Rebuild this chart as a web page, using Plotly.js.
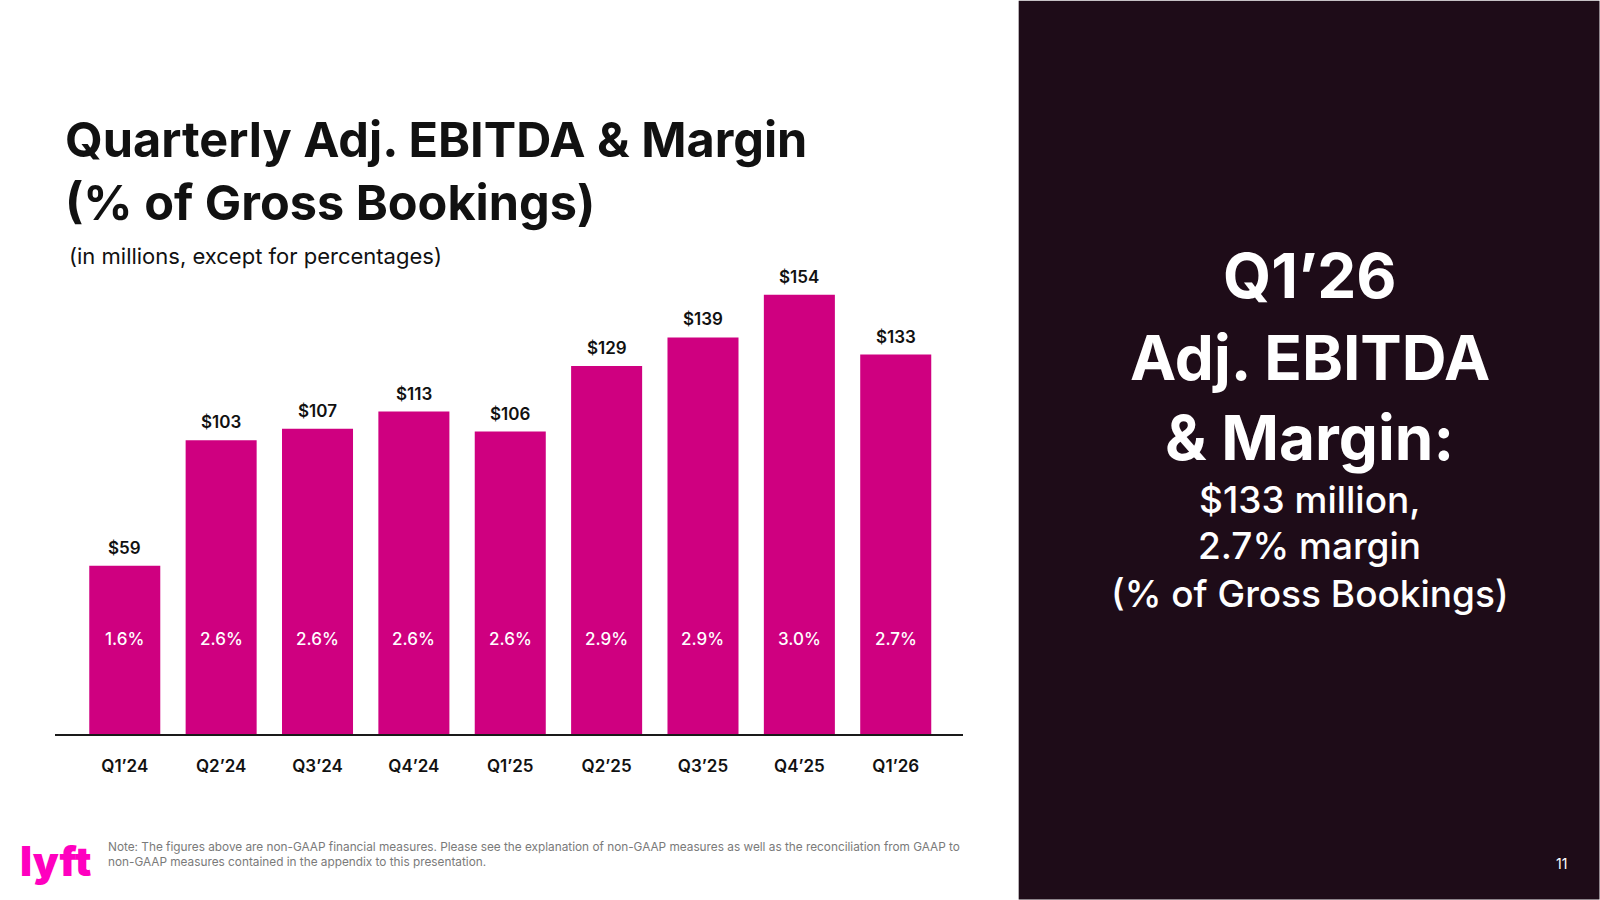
<!DOCTYPE html>
<html>
<head>
<meta charset="utf-8">
<script src="https://cdn.plot.ly/plotly-3.0.1.min.js"></script>
<style>
  html, body { margin: 0; padding: 0; background: #ffffff; }
  #chart { width: 1600px; height: 900px; }
</style>
</head>
<body>
<div id="chart"></div>
<script>
// Quarterly Adj. EBITDA ($M) and margin (% of Gross Bookings)
const quarters = ['Q1’24', 'Q2’24', 'Q3’24', 'Q4’24', 'Q1’25', 'Q2’25', 'Q3’25', 'Q4’25', 'Q1’26'];
const ebitda = [59, 103, 107, 113, 106, 129, 139, 154, 133];
const marginPct = [1.6, 2.6, 2.6, 2.6, 2.6, 2.9, 2.9, 3.0, 2.7];

const valueLabels = ebitda.map(v => '$' + v);
const marginLabels = marginPct.map(m => m.toFixed(1) + '%');

const FONT = 'Inter, "Noto Sans", sans-serif';
const BAR_COLOR = '#CF0080';
const PANEL_COLOR = '#1E0C18';

// plot area in page pixels
const PLOT = { l: 55, r: 963.3, t: 248.6, b: 734.3 };
const W = 1600, H = 900;
const px = x => (x - PLOT.l) / (PLOT.r - PLOT.l);
const py = y => (PLOT.b - y) / (PLOT.b - PLOT.t);

const bars = {
  type: 'bar',
  x: quarters,
  y: ebitda,
  marker: { color: BAR_COLOR, line: { width: 0 } },
  hoverinfo: 'x+y',
  showlegend: false
};

const annotations = [];

// dollar values above each bar
quarters.forEach((q, i) => {
  annotations.push({
    x: q, y: ebitda[i], xref: 'x', yref: 'y',
    text: valueLabels[i], showarrow: false,
    yanchor: 'middle', yshift: 18,
    font: { family: FONT, size: 17, color: '#111111', weight: 600 }
  });
});

// margin inside each bar
quarters.forEach((q, i) => {
  annotations.push({
    x: q, y: py(639), xref: 'x', yref: 'paper',
    text: marginLabels[i], showarrow: false,
    yanchor: 'middle',
    font: { family: FONT, size: 17, color: '#ffffff', weight: 500 }
  });
});

// subtitle
annotations.push({
  x: px(67), y: py(256), xref: 'paper', yref: 'paper',
  xanchor: 'left', yanchor: 'middle', showarrow: false,
  text: '(in millions, except for percentages)',
  font: { family: FONT, size: 22, color: '#111111', weight: 400 }
});

// right-hand summary panel
const panelX = px(1310);
const panelBig = [['Q1’26', 275], ['Adj. EBITDA', 357], ['& Margin:', 437]];
const panelSmall = [['$133 million,', 499], ['2.7% margin', 546], ['(% of Gross Bookings)', 594]];
panelBig.forEach(([t, y]) => annotations.push({
  x: panelX, y: py(y), xref: 'paper', yref: 'paper',
  xanchor: 'center', yanchor: 'middle', showarrow: false, text: t,
  font: { family: FONT, size: 62, color: '#ffffff', weight: 700 }
}));
panelSmall.forEach(([t, y]) => annotations.push({
  x: panelX, y: py(y), xref: 'paper', yref: 'paper',
  xanchor: 'center', yanchor: 'middle', showarrow: false, text: t,
  font: { family: FONT, size: 37, color: '#ffffff', weight: 500 }
}));

// page number
annotations.push({
  x: px(1562), y: py(864), xref: 'paper', yref: 'paper',
  xanchor: 'center', yanchor: 'middle', showarrow: false, text: '11',
  font: { family: FONT, size: 14, color: '#ffffff', weight: 400 }
});

// footnote
annotations.push({
  x: px(106), y: py(855), xref: 'paper', yref: 'paper',
  xanchor: 'left', yanchor: 'middle', align: 'left', showarrow: false,
  text: 'Note: The figures above are non-GAAP financial measures. Please see the explanation of non-GAAP measures as well as the reconciliation from GAAP to<br>non-GAAP measures contained in the appendix to this presentation.',
  font: { family: FONT, size: 11.8, color: '#7a7a7a', weight: 400 }
});

// brand mark
annotations.push({
  x: px(56), y: py(861), xref: 'paper', yref: 'paper',
  xanchor: 'center', yanchor: 'middle', showarrow: false, text: 'lyft',
  font: { family: FONT, size: 41, color: '#FF00BF', weight: 900 }
});

const layout = {
  width: W, height: H,
  margin: { l: PLOT.l, r: W - PLOT.r, t: PLOT.t, b: H - PLOT.b, pad: 0 },
  paper_bgcolor: '#ffffff',
  plot_bgcolor: '#ffffff',
  bargap: 0.263,
  title: {
    text: 'Quarterly Adj. EBITDA & Margin<br>(% of Gross Bookings)',
    xref: 'container', yref: 'container',
    x: 65 / W, xanchor: 'left',
    y: 1 - 157 / H, yanchor: 'top',
    font: { family: FONT, size: 48.6, color: '#111111', weight: 700 }
  },
  xaxis: {
    type: 'category',
    range: [-0.724, 8.698],
    showline: true, linecolor: '#1a1a1a', linewidth: 1.5,
    showgrid: false, zeroline: false,
    ticks: 'outside', ticklen: 16, tickcolor: 'rgba(0,0,0,0)',
    tickfont: { family: FONT, size: 17, color: '#111111', weight: 600 },
    fixedrange: true
  },
  yaxis: {
    range: [0, 170],
    visible: false, showgrid: false, zeroline: false,
    fixedrange: true
  },
  shapes: [{
    type: 'rect', xref: 'paper', yref: 'paper', layer: 'below',
    x0: px(1019), x1: px(1600), y0: py(900), y1: py(0),
    fillcolor: PANEL_COLOR, line: { width: 0 }
  }],
  annotations: annotations
};

Plotly.newPlot('chart', [bars], layout, { displayModeBar: false, staticPlot: true });
</script>
</body>
</html>
